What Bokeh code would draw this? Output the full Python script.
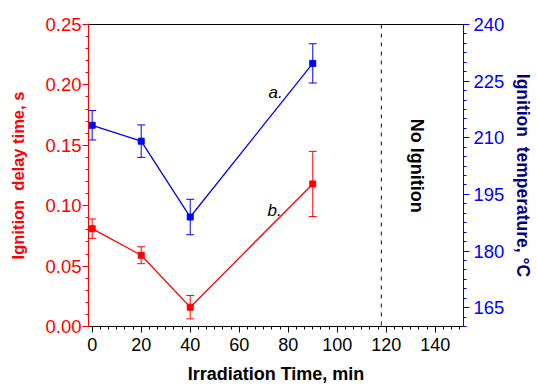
import numpy as np
from bokeh.plotting import figure
from bokeh.models import (Range1d, LinearAxis, SingleIntervalTicker, Whisker,
                          ColumnDataSource, Span, TeeHead, Label,
                          NumeralTickFormatter)
from bokeh.embed import file_html
from bokeh.resources import INLINE

# ---- data ----
time_min = [0, 20, 40, 90]
delay_s = [0.081, 0.059, 0.016, 0.118]
delay_err = [0.008, 0.007, 0.0097, 0.027]
temp_c = [213.3, 209.1, 189.0, 229.7]
temp_err = [3.9, 4.3, 4.7, 5.2]
no_ignition_x = 118

RED = "#ff0000"
BLUE = "#0000ff"
NAVY = "#000080"
FONT = "Liberation Sans"

p = figure(width=537, height=386, output_backend="svg", toolbar_location=None,
           x_range=Range1d(-1.5, 151.5), y_range=Range1d(0, 0.25),
           min_border_left=88, min_border_right=74, min_border_top=24,
           min_border_bottom=58)
p.extra_y_ranges = {"temp": Range1d(160, 240)}
p.grid.visible = False
p.outline_line_color = "black"
p.outline_line_width = 1
p.background_fill_color = "white"
p.border_fill_color = "white"

# x axis
xa = p.xaxis[0]
xa.ticker = SingleIntervalTicker(interval=20, num_minor_ticks=6)
xa.axis_label = "Irradiation Time, min"
xa.axis_label_text_font = FONT
xa.axis_label_text_font_style = "bold"
xa.axis_label_text_font_size = "18px"
xa.axis_label_text_color = "black"
xa.axis_label_standoff = 10
xa.major_label_text_font = FONT
xa.major_label_text_font_size = "18px"
xa.major_label_text_color = "black"
xa.major_label_standoff = 5
xa.major_tick_in = 0
xa.major_tick_out = 6
xa.minor_tick_in = 0
xa.minor_tick_out = 3
xa.axis_line_color = "black"
xa.major_tick_line_color = "black"
xa.minor_tick_line_color = "black"

# left y axis
ya = p.yaxis[0]
ya.ticker = SingleIntervalTicker(interval=0.05, num_minor_ticks=5)
ya.formatter = NumeralTickFormatter(format="0.00")
ya.axis_label = "Ignition\u00a0 delay time, s"
ya.axis_label_text_font = FONT
ya.axis_label_text_font_style = "bold"
ya.axis_label_text_font_size = "16.5px"
ya.axis_label_text_color = RED
ya.axis_label_standoff = 15
ya.major_label_text_font = FONT
ya.major_label_text_font_size = "18.5px"
ya.major_label_text_color = RED
ya.major_label_standoff = 1
ya.major_tick_in = 0
ya.major_tick_out = 6
ya.minor_tick_in = 0
ya.minor_tick_out = 3
ya.axis_line_color = RED
ya.major_tick_line_color = RED
ya.minor_tick_line_color = RED

# right y axis
ra = LinearAxis(y_range_name="temp",
                ticker=SingleIntervalTicker(interval=15, num_minor_ticks=6))
ra.axis_label = "Ignition\u00a0 temperature, °C"
ra.axis_label_text_font = FONT
ra.axis_label_text_font_style = "bold"
ra.axis_label_text_font_size = "17.5px"
ra.axis_label_text_color = NAVY
ra.axis_label_standoff = 6
ra.major_label_text_font = FONT
ra.major_label_text_font_size = "18.5px"
ra.major_label_text_color = BLUE
ra.major_label_standoff = 4
ra.major_tick_in = 0
ra.major_tick_out = 6
ra.minor_tick_in = 0
ra.minor_tick_out = 3
ra.axis_line_color = BLUE
ra.major_tick_line_color = BLUE
ra.minor_tick_line_color = BLUE
p.add_layout(ra, "right")

# data sources
red_src = ColumnDataSource(dict(
    x=time_min, y=delay_s,
    lo=[v - e for v, e in zip(delay_s, delay_err)],
    hi=[v + e for v, e in zip(delay_s, delay_err)]))
blue_src = ColumnDataSource(dict(
    x=time_min, y=temp_c,
    lo=[v - e for v, e in zip(temp_c, temp_err)],
    hi=[v + e for v, e in zip(temp_c, temp_err)]))

# no-ignition line
p.add_layout(Span(location=no_ignition_x, dimension="height",
                  line_color="#333333", line_dash="4 5", line_width=1.2))

# error bars
p.add_layout(Whisker(source=red_src, base="x", upper="hi", lower="lo",
                     line_color=RED, line_width=1,
                     upper_head=TeeHead(size=8, line_color=RED, line_width=1),
                     lower_head=TeeHead(size=8, line_color=RED, line_width=1)))
p.add_layout(Whisker(source=blue_src, base="x", upper="hi", lower="lo",
                     y_range_name="temp",
                     line_color=BLUE, line_width=1,
                     upper_head=TeeHead(size=8, line_color=BLUE, line_width=1),
                     lower_head=TeeHead(size=8, line_color=BLUE, line_width=1)))

# lines + markers
p.line("x", "y", source=red_src, line_color=RED, line_width=1.3)
p.scatter("x", "y", source=red_src, marker="square", size=6,
          fill_color=RED, line_color=RED)
p.line("x", "y", source=blue_src, y_range_name="temp",
       line_color=BLUE, line_width=1.3)
p.scatter("x", "y", source=blue_src, y_range_name="temp", marker="square",
          size=6, fill_color=BLUE, line_color=BLUE)

# annotations
p.add_layout(Label(x=74.8, y=0.194, text="a.", text_font=FONT,
                   text_font_style="italic", text_font_size="17px",
                   text_align="center", text_baseline="middle",
                   text_color="black"))
p.add_layout(Label(x=74.4, y=0.096, text="b.", text_font=FONT,
                   text_font_style="italic", text_font_size="17px",
                   text_align="center", text_baseline="middle",
                   text_color="black"))
p.add_layout(Label(x=132.7, y=0.133, text="No Ignition", text_font=FONT,
                   text_font_style="bold", text_font_size="18px",
                   angle=-np.pi / 2, text_align="center",
                   text_baseline="middle", text_color="black"))

open("out.html", "w").write(file_html(p, INLINE))
